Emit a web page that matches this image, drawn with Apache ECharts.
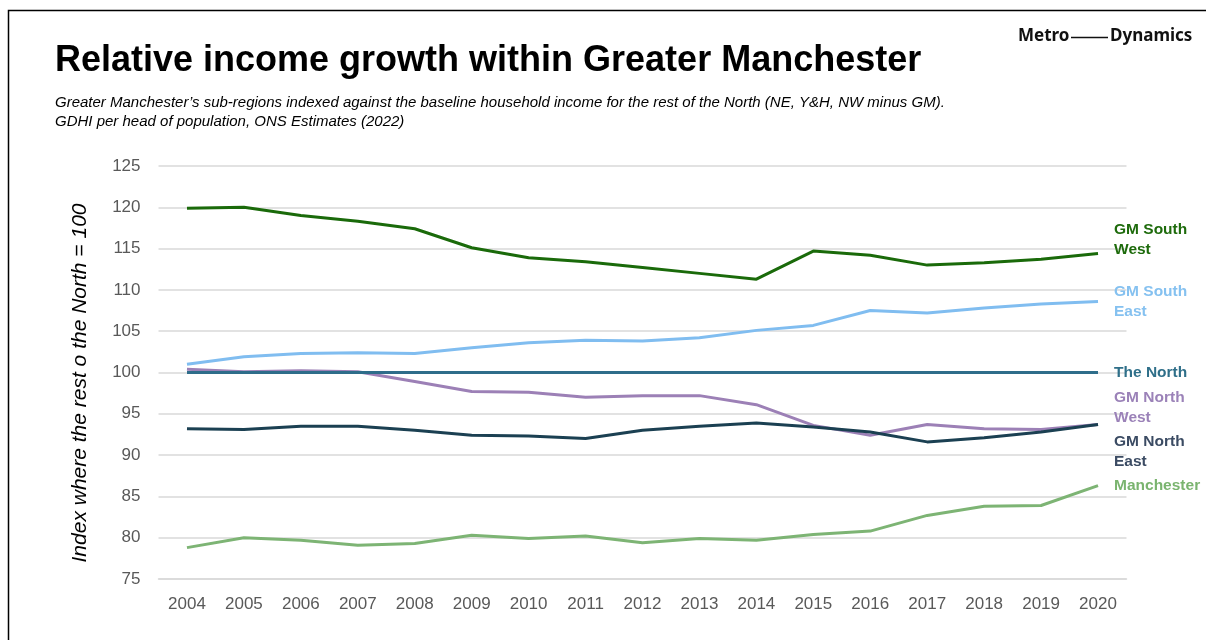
<!DOCTYPE html>
<html>
<head>
<meta charset="utf-8">
<script src="https://cdn.jsdelivr.net/npm/echarts@6/dist/echarts.min.js"></script>
<style>
html,body{margin:0;padding:0;background:#fff;}
#c{width:1206px;height:640px;}
</style>
</head>
<body>
<div id="c"></div>
<script>
var years = ['2004','2005','2006','2007','2008','2009','2010','2011','2012','2013','2014','2015','2016','2017','2018','2019','2020'];
var gmSouthWest = [119.9,120.0,119.0,118.3,117.4,115.1,113.9,113.4,112.7,112.0,111.3,114.7,114.2,113.0,113.3,113.7,114.4];
var gmSouthEast = [101.0,101.9,102.3,102.4,102.3,103.0,103.6,103.9,103.8,104.2,105.1,105.7,107.5,107.2,107.8,108.3,108.6];
var theNorth    = [100,100,100,100,100,100,100,100,100,100,100,100,100,100,100,100,100];
var gmNorthWest = [100.4,100.1,100.2,100.1,98.9,97.7,97.6,97.0,97.2,97.2,96.1,93.6,92.4,93.7,93.2,93.1,93.7];
var gmNorthEast = [93.2,93.1,93.5,93.5,93.0,92.4,92.3,92.0,93.0,93.5,93.9,93.4,92.8,91.6,92.1,92.8,93.7];
var manchester  = [78.8,80.0,79.7,79.1,79.3,80.3,79.9,80.2,79.4,79.9,79.7,80.4,80.8,82.7,83.8,83.9,86.3];
var yTicks = [75,80,85,90,95,100,105,110,115,120,125];

var chart = echarts.init(document.getElementById('c'), null, {renderer:'canvas'});

function mk(name, data, lineColor, textColor, label, dy, z) {
  return {
    name: name, type: 'line', data: data, symbol: 'none', z: z,
    lineStyle: {color: lineColor, width: 3},
    itemStyle: {color: lineColor},
    endLabel: {
      show: true, formatter: label, color: textColor,
      fontFamily: 'Liberation Sans, Arial, sans-serif', fontWeight: 'bold', fontSize: 15.5,
      lineHeight: 20, distance: 16, offset: [0, dy], align: 'left'
    },
    animation: false
  };
}

chart.setOption({
  animation: false,
  backgroundColor: '#fff',
  grid: {left: 158.5, right: 79.5, top: 166, bottom: 61},
  xAxis: {
    type: 'category', data: years, boundaryGap: true,
    axisLine: {show: true, lineStyle: {color: '#d9d9d9', width: 1.5}},
    axisTick: {show: false},
    axisLabel: {color: '#595959', fontSize: 17, fontFamily: 'Liberation Sans, Arial, sans-serif', margin: 17}
  },
  yAxis: {
    type: 'value', min: 75, max: 125, interval: 5,
    axisLine: {show: false}, axisTick: {show: false},
    splitLine: {lineStyle: {color: '#d9d9d9', width: 1.5}},
    axisLabel: {color: '#595959', fontSize: 17, fontFamily: 'Liberation Sans, Arial, sans-serif', margin: 18,
      formatter: function(v){ return yTicks.indexOf(v) >= 0 ? String(v) : ''; }}
  },
  series: [
    mk('Manchester', manchester, '#7db474', '#7ab46f', 'Manchester', 0, 2),
    mk('GM North West', gmNorthWest, '#9c80b6', '#9b82b8', 'GM North\nWest', -17, 3),
    mk('GM North East', gmNorthEast, '#1b4052', '#3b4b63', 'GM North\nEast', 27, 4),
    mk('The North', theNorth, '#2e6d8a', '#2f6f89', 'The North', 0, 5),
    mk('GM South East', gmSouthEast, '#80bdf0', '#85c1f0', 'GM South\nEast', 0, 6),
    mk('GM South West', gmSouthWest, '#1a6a0a', '#1e6b0c', 'GM South\nWest', -14, 7)
  ],
  graphic: [
    {type: 'rect', shape: {x: 8.5, y: 10.5, width: 1210, height: 650}, style: {fill: 'none', stroke: '#000', lineWidth: 1.5}, silent: true},
    {type: 'text', left: 55, top: 43, style: {text: 'Relative income growth within Greater Manchester', fill: '#000',
      font: 'bold 36px "Liberation Sans", Arial, sans-serif'}},
    {type: 'text', left: 55, top: 93, style: {text: 'Greater Manchester\u2019s sub-regions indexed against the baseline household income for the rest of the North (NE, Y&H, NW minus GM).\nGDHI per head of population, ONS Estimates (2022)', fill: '#000',
      font: 'italic 15px "Liberation Sans", Arial, sans-serif', lineHeight: 19}},
    {type: 'text', x: 80, y: 383, rotation: Math.PI / 2, style: {text: 'Index where the rest o the North = 100', fill: '#000',
      font: 'italic 21px "Liberation Sans", Arial, sans-serif', align: 'center', verticalAlign: 'middle'}},
    {type: 'text', left: 1018, top: 28, style: {text: 'Metro', fill: '#111', font: 'bold 17px "Noto Sans", sans-serif'}},
    {type: 'line', shape: {x1: 1071, y1: 37.5, x2: 1108, y2: 37.5}, style: {stroke: '#111', lineWidth: 1.5}},
    {type: 'text', left: 1110, top: 28, style: {text: 'Dynamics', fill: '#111', font: 'bold 17px "Noto Sans", sans-serif', letterSpacing: 0.6}}
  ]
});
</script>
</body>
</html>
